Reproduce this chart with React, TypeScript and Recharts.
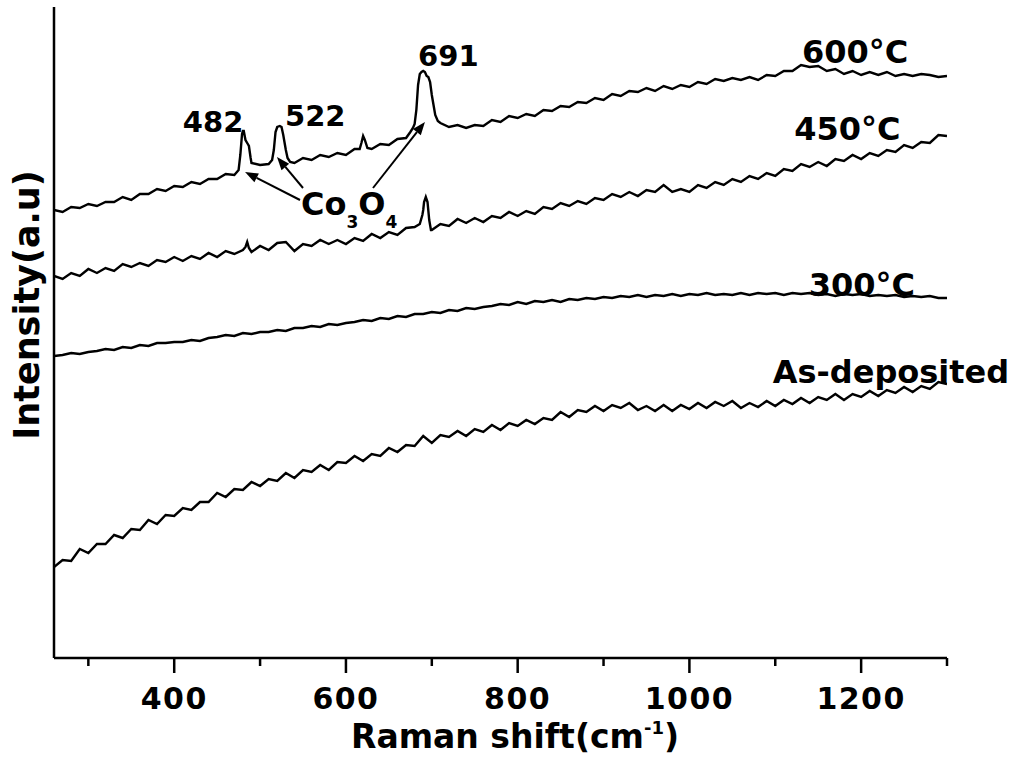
import React from "react";
import { LineChart, Line, XAxis, YAxis, ReferenceLine, ReferenceDot } from "recharts";

// Raman spectra of Co3O4 films, offset stacked (arbitrary intensity units)

const shift = [
  260, 270, 280, 290, 300, 310, 320, 330, 340, 350, 360, 370, 380, 390, 400, 410, 420, 430, 440, 450,
  460, 470, 480, 490, 500, 510, 520, 530, 540, 550, 560, 570, 580, 590, 600, 610, 620, 630, 640, 650,
  660, 670, 680, 690, 700, 710, 720, 730, 740, 750, 760, 770, 780, 790, 800, 810, 820, 830, 840, 850,
  860, 870, 880, 890, 900, 910, 920, 930, 940, 950, 960, 970, 980, 990, 1000, 1010, 1020, 1030, 1040, 1050,
  1060, 1070, 1080, 1090, 1100, 1110, 1120, 1130, 1140, 1150, 1160, 1170, 1180, 1190, 1200, 1210, 1220, 1230, 1240, 1250,
  1260, 1270, 1280, 1290, 1300,
];

const i600 = [
  448, 446, 451, 450, 454, 452, 456, 456, 461, 458, 464, 464, 469, 467, 472, 471, 476, 474, 479, 479,
  484, 483, 527, 495, 493, 494, 531, 508, 495, 500, 498, 503, 501, 505, 503, 509, 522, 509, 514, 513,
  519, 520, 534, 587, 563, 535, 531, 533, 530, 533, 532, 538, 536, 542, 540, 544, 542, 548, 547, 552,
  551, 556, 555, 560, 558, 564, 562, 567, 566, 570, 567, 572, 569, 573, 571, 576, 574, 579, 577, 580,
  578, 581, 578, 583, 582, 587, 587, 593, 591, 592, 587, 589, 584, 587, 583, 586, 583, 586, 582, 584,
  582, 584, 583, 581, 582,
];

const i450 = [
  382, 379, 385, 382, 389, 385, 390, 387, 394, 391, 395, 392, 398, 396, 401, 397, 402, 399, 405, 401,
  407, 404, 408, 406, 412, 408, 415, 416, 407, 414, 412, 418, 414, 418, 414, 420, 417, 424, 420, 426,
  423, 430, 431, 448, 428, 434, 432, 439, 435, 440, 436, 442, 440, 446, 442, 447, 444, 451, 449, 455,
  452, 457, 454, 460, 458, 464, 461, 466, 462, 468, 466, 473, 466, 469, 466, 473, 470, 476, 473, 479,
  476, 482, 479, 485, 482, 489, 487, 494, 491, 496, 492, 499, 497, 503, 499, 505, 502, 508, 506, 513,
  510, 516, 515, 523, 522,
];

const i300 = [
  302, 303, 305, 304, 306, 307, 309, 308, 311, 310, 313, 312, 315, 315, 316, 316, 318, 317, 320, 321,
  323, 322, 325, 324, 326, 326, 328, 327, 330, 330, 332, 331, 334, 333, 335, 336, 338, 337, 340, 339,
  342, 341, 344, 344, 346, 345, 348, 347, 350, 349, 351, 352, 354, 353, 356, 354, 357, 356, 358, 356,
  359, 358, 360, 359, 361, 360, 362, 361, 363, 361, 363, 362, 364, 362, 364, 363, 365, 363, 364, 363,
  365, 363, 365, 364, 365, 363, 365, 364, 365, 363, 364, 362, 364, 363, 364, 362, 363, 362, 363, 361,
  362, 361, 362, 360, 360,
];

const iAsDep = [
  91, 98, 97, 109, 105, 114, 114, 123, 120, 129, 128, 138, 134, 143, 142, 150, 148, 156, 156, 165,
  161, 169, 168, 176, 172, 179, 177, 185, 180, 188, 186, 193, 188, 196, 195, 202, 197, 204, 202, 210,
  206, 213, 212, 222, 215, 223, 221, 227, 222, 229, 226, 233, 228, 235, 232, 238, 234, 240, 238, 246,
  241, 248, 246, 252, 247, 253, 250, 255, 248, 252, 247, 253, 247, 253, 249, 255, 250, 256, 252, 257,
  250, 255, 251, 257, 252, 258, 254, 260, 255, 261, 258, 264, 258, 264, 261, 267, 262, 268, 265, 271,
  266, 272, 269, 276, 274,
];

// finer sampling across the Co3O4 bands
const peak600Shift = [
  475, 477, 479, 481, 483, 485, 487, 489, 514, 516, 518, 523, 525, 527, 529, 532, 535,
  616, 618, 622, 625, 675, 678, 682, 684, 686, 688, 692, 694, 696, 698, 702, 704, 707,
];
const peak600Int = [
  488, 503, 524, 527, 518, 515, 512, 500, 498, 508, 526, 532, 531, 523, 513, 500, 496,
  509, 515, 518, 510, 526, 530, 548, 573, 584, 586, 586, 582, 581, 576, 553, 543, 537,
];
const peak450Shift = [483, 485, 487, 686, 689, 691, 693, 695, 697, 699];
const peak450Int = [411, 416, 410, 434, 443, 456, 461, 456, 438, 428];

const xTicks = [300, 400, 500, 600, 700, 800, 900, 1000, 1100, 1200, 1300];

const curveLabels = [
  { text: "600°C", x: 1131, y: 595 },
  { text: "450°C", x: 1122, y: 518 },
  { text: "300°C", x: 1139, y: 362 },
  { text: "As-deposited", x: 1097, y: 275 },
];
const peakLabels = [
  { text: "482", x: 410, y: 526 },
  { text: "522", x: 529, y: 532 },
  { text: "691", x: 684, y: 592 },
];
const arrows = [
  { from: [546.5, 458], to: [482.5, 486] },
  { from: [550, 470], to: [519.7, 501] },
  { from: [631.5, 470], to: [692, 536] },
];

const FONT = "'DejaVu Sans', Verdana, sans-serif";
const INK = "#000";

function buildRows(xs: number[], ys: number[], ex: number[] = [], ey: number[] = []) {
  const rows = xs.map((x, i) => ({ shift: x, v: ys[i] }));
  ex.forEach((x, i) => rows.push({ shift: x, v: ey[i] }));
  return rows.sort((a, b) => a.shift - b.shift);
}

const series = [
  { key: "600", data: buildRows(shift, i600, peak600Shift, peak600Int) },
  { key: "450", data: buildRows(shift, i450, peak450Shift, peak450Int) },
  { key: "300", data: buildRows(shift, i300) },
  { key: "asdep", data: buildRows(shift, iAsDep) },
];

function XTick({ x, y, payload }: any) {
  const major = payload.value % 200 === 0;
  return (
    <g>
      <line x1={x} x2={x} y1={y} y2={y + (major ? 15 : 8)} stroke={INK} strokeWidth={2.5} />
      {major && (
        <text x={x} y={y + 51} textAnchor="middle" fontFamily={FONT} fontWeight="bold" fontSize={30} letterSpacing={1.5} fill={INK}>
          {payload.value}
        </text>
      )}
    </g>
  );
}

function Arrow({ x1, y1, x2, y2 }: any) {
  const a = Math.atan2(y2 - y1, x2 - x1);
  const len = 13;
  const w = 5;
  const bx = x2 - len * Math.cos(a);
  const by = y2 - len * Math.sin(a);
  const px = -Math.sin(a) * w;
  const py = Math.cos(a) * w;
  return (
    <g>
      <line x1={x1} y1={y1} x2={bx} y2={by} stroke={INK} strokeWidth={2} />
      <polygon points={`${x2},${y2} ${bx + px},${by + py} ${bx - px},${by - py}`} fill={INK} />
    </g>
  );
}

export default function App() {
  return (
    <div style={{ position: "absolute", left: 0, top: 0, width: 1014, height: 758, background: "#fff" }}>
      <style>{"body{margin:0}"}</style>
      <LineChart width={1014} height={758} margin={{ top: 7, right: 67, bottom: 0, left: 0 }}>
        <XAxis
          type="number"
          dataKey="shift"
          domain={[260, 1300]}
          ticks={xTicks}
          interval={0}
          allowDataOverflow
          tickSize={0}
          tickMargin={0}
          tickLine={false}
          axisLine={{ stroke: INK, strokeWidth: 2.5 }}
          tick={<XTick />}
          height={100}
          label={() => (
            <text x={515} y={748} textAnchor="middle" fontFamily={FONT} fontWeight="bold" fontSize={33} fill={INK}>
              Raman shift(cm
              <tspan fontSize={18} dy={-14}>-1</tspan>
              <tspan dy={14}>)</tspan>
            </text>
          )}
        />
        <YAxis
          type="number"
          domain={[0, 651]}
          allowDataOverflow
          width={54}
          tick={false}
          tickLine={false}
          axisLine={{ stroke: INK, strokeWidth: 2.5 }}
          label={() => (
            <text
              x={39}
              y={305}
              transform="rotate(-90, 39, 305)"
              textAnchor="middle"
              fontFamily={FONT}
              fontWeight="bold"
              fontSize={35}
              fill={INK}
            >
              Intensity(a.u)
            </text>
          )}
        />
        {series.map((s) => (
          <Line
            key={s.key}
            data={s.data}
            dataKey="v"
            type="linear"
            stroke={INK}
            strokeWidth={2.4}
            dot={false}
            activeDot={false}
            isAnimationActive={false}
          />
        ))}
        {arrows.map((a, i) => (
          <ReferenceLine
            key={"arr" + i}
            segment={[
              { x: a.from[0], y: a.from[1] },
              { x: a.to[0], y: a.to[1] },
            ]}
            shape={(p: any) => <Arrow {...p} />}
          />
        ))}
        {[...curveLabels, ...peakLabels].map((l) => (
          <ReferenceDot
            key={l.text}
            x={l.x}
            y={l.y}
            r={0}
            shape={(p: any) => (
              <text x={p.cx} y={p.cy} fontFamily={FONT} fontWeight="bold" fontSize={l.text.length === 3 ? 29 : 32} fill={INK}>
                {l.text}
              </text>
            )}
          />
        ))}
        <ReferenceDot
          x={547.7}
          y={443}
          r={0}
          shape={(p: any) => (
            <text x={p.cx} y={p.cy} fontFamily={FONT} fontWeight="bold" fontSize={32} fill={INK}>
              Co
              <tspan fontSize={17} dy={13}>3</tspan>
              <tspan dy={-13}>O</tspan>
              <tspan fontSize={17} dy={13}>4</tspan>
            </text>
          )}
        />
      </LineChart>
    </div>
  );
}
